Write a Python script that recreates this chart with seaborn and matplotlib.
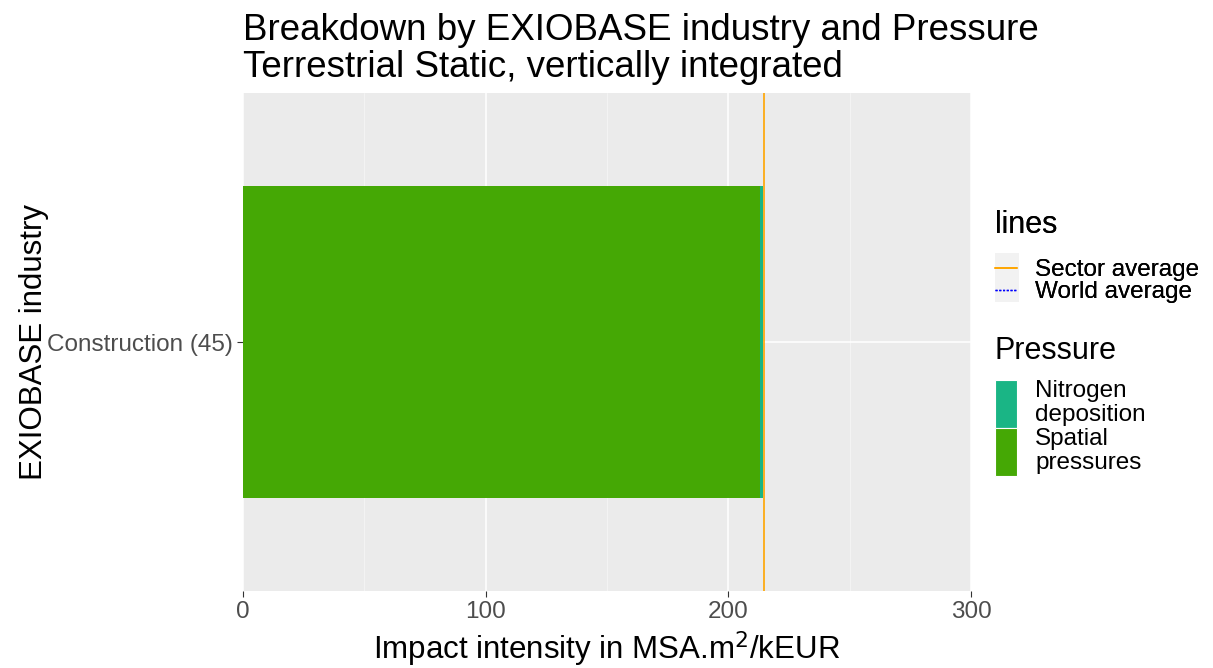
import numpy as np
import pandas as pd
import matplotlib
matplotlib.use("Agg")
import matplotlib.pyplot as plt
import seaborn as sns
from matplotlib.lines import Line2D
from matplotlib.patches import Patch, Rectangle

industries = ["Construction (45)"]
spatial_pressures = [213.0]
nitrogen_deposition = [1.4]
sector_average = [214.7]
pressure_names = ["Nitrogen\ndeposition", "Spatial\npressures"]
pressure_colors = ["#1AB585", "#45A805"]

W, H = 1213, 668

sns.set_theme(style="darkgrid", rc={
    "axes.facecolor": "#EBEBEB",
    "grid.color": "white",
    "axes.edgecolor": "none",
})
plt.rcParams["font.family"] = ["Liberation Sans", "DejaVu Sans"]
plt.rcParams["text.color"] = "black"
plt.rcParams["axes.labelcolor"] = "black"

df = pd.DataFrame({
    "industry": industries,
    "spatial": spatial_pressures,
    "nitrogen": nitrogen_deposition,
})
df["total"] = df["spatial"] + df["nitrogen"]

fig = plt.figure(figsize=(W / 100, H / 100), dpi=100)
ax = fig.add_axes([243 / W, 1 - 591 / H, (971 - 243) / W, (591 - 93) / H])

# stacked bars: total first, spatial drawn over it
sns.barplot(data=df, x="total", y="industry", color=pressure_colors[0],
            width=0.9, saturation=1, linewidth=0, ax=ax, orient="h")
sns.barplot(data=df, x="spatial", y="industry", color=pressure_colors[1],
            width=0.9, saturation=1, linewidth=0, ax=ax, orient="h")

for v in sector_average:
    ax.axvline(v, color="orange", lw=1.2, zorder=5)

ax.set_xlim(0, 300)
ax.set_ylim(0.72, -0.72)
ax.set_xticks([0, 100, 200, 300])
ax.set_xticks([50, 150, 250], minor=True)
ax.grid(True, which="major", color="white", lw=1.1)
ax.grid(True, which="minor", axis="x", color="#F5F5F5", lw=0.6)
ax.set_axisbelow(True)
ax.tick_params(axis="both", which="major", labelsize=17.5, labelcolor="#4D4D4D",
               length=4, width=0.8, color="#333333", pad=3, bottom=True, left=True)
ax.tick_params(axis="both", which="minor", length=0)
ax.set_xlabel("Impact intensity in MSA.m$^2$/kEUR", fontsize=22.5, labelpad=5)
ax.set_ylabel("EXIOBASE industry", fontsize=22.5, labelpad=-1)

fig.text(243 / W, 1 - 13 / H,
         "Breakdown by EXIOBASE industry and Pressure\nTerrestrial Static, vertically integrated",
         fontsize=26.5, ha="left", va="top", linespacing=1.08)

# grey key background for the lines legend
fig.patches.append(Rectangle((995 / W, 1 - 302 / H), 24 / W, 49 / H,
                             transform=fig.transFigure, facecolor="#F2F2F2",
                             edgecolor="none", zorder=0))

line_handles = [
    Line2D([], [], color="orange", lw=1.2),
    Line2D([], [], color="blue", lw=1.0, ls=(0, (1.5, 1.2))),
]
leg1 = fig.legend(line_handles, ["Sector average", "World average"], title="lines",
                  loc="upper left", bbox_to_anchor=(995 / W, 1 - 210 / H),
                  frameon=False, fontsize=17.5, title_fontsize=22, handlelength=0.9,
                  handletextpad=0.75, labelspacing=0.0, borderaxespad=0, borderpad=0)
leg1._legend_box.align = "left"
leg1._legend_box.sep = 14
for t in leg1.get_texts():
    t.set_linespacing(1.0)

patch_handles = [Patch(facecolor=c, edgecolor="white", lw=0.8) for c in pressure_colors]
leg2 = fig.legend(patch_handles, pressure_names, title="Pressure",
                  loc="upper left", bbox_to_anchor=(995 / W, 1 - 336 / H),
                  frameon=False, fontsize=17.5, title_fontsize=22, handlelength=0.9,
                  handleheight=2.66, handletextpad=0.75, labelspacing=0.0,
                  borderaxespad=0, borderpad=0)
leg2._legend_box.align = "left"
leg2._legend_box.sep = 10
for t in leg2.get_texts():
    t.set_linespacing(1.12)
fig.add_artist(leg1)

fig.savefig("out.png", dpi=100)
